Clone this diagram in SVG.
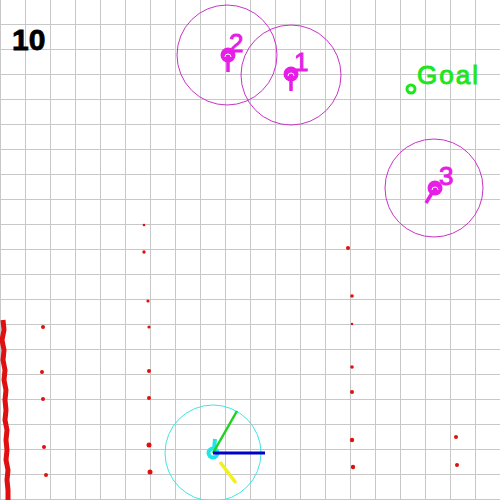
<svg xmlns="http://www.w3.org/2000/svg" width="500" height="500" viewBox="0 0 500 500">
<defs>
<style>
.range{fill:none;stroke:#c832c8;stroke-width:1}
.body{fill:#e61ee6}
.tail{stroke:#e61ee6;stroke-width:3.5;stroke-linecap:butt}
.inner{fill:none;stroke:#ffffff;stroke-width:1}
.lbl{font-family:"Liberation Sans",Arial,sans-serif;font-size:26px;fill:#e61ee6;stroke:#e61ee6;stroke-width:1}
.pt{fill:#e01010}
</style>
</defs>
<rect width="500" height="500" fill="#ffffff"/>
<path id="grid" fill="none" stroke="#c8c8c8" stroke-width="1" d="M0.5 0V500M25.5 0V500M50.5 0V500M75.5 0V500M100.5 0V500M125.5 0V500M150.5 0V500M175.5 0V500M200.5 0V500M225.5 0V500M250.5 0V500M275.5 0V500M300.5 0V500M325.5 0V500M350.5 0V500M375.5 0V500M400.5 0V500M425.5 0V500M450.5 0V500M475.5 0V500M0 24.5H500M0 49.5H500M0 74.5H500M0 99.5H500M0 124.5H500M0 149.5H500M0 174.5H500M0 199.5H500M0 224.5H500M0 249.5H500M0 274.5H500M0 299.5H500M0 324.5H500M0 349.5H500M0 374.5H500M0 399.5H500M0 424.5H500M0 449.5H500M0 474.5H500M0 499.5H500"/>
<text x="12" y="50" font-family="Liberation Sans,Arial,sans-serif" font-weight="bold" font-size="30" fill="#000" stroke="#000" stroke-width="0.8">10</text>

<g id="lidar">
<path d="M3 320 L4 330 L2 340 L4 350 L3 360 L5 370 L4 380 L6 390 L5 400 L6 410 L5 420 L7 430 L6 440 L7 450 L6 460 L8 470 L7 480 L8 490 L8 500" fill="none" stroke="#e01010" stroke-width="5"/>
<circle class="pt" cx="43" cy="327" r="2"/>
<circle class="pt" cx="42" cy="372" r="2"/>
<circle class="pt" cx="43" cy="399" r="2"/>
<circle class="pt" cx="44" cy="447" r="2"/>
<circle class="pt" cx="46" cy="475" r="2"/>
<circle class="pt" cx="144" cy="225" r="1.3"/>
<circle class="pt" cx="144" cy="252" r="1.7"/>
<circle class="pt" cx="148" cy="301" r="1.6"/>
<circle class="pt" cx="149" cy="327" r="1.6"/>
<circle class="pt" cx="149" cy="371" r="2"/>
<circle class="pt" cx="149" cy="398" r="2"/>
<circle class="pt" cx="149" cy="445" r="2.5"/>
<circle class="pt" cx="150" cy="472" r="2.5"/>
<circle class="pt" cx="348" cy="248" r="2"/>
<circle class="pt" cx="352" cy="296" r="1.8"/>
<circle class="pt" cx="352" cy="324" r="1.3"/>
<circle class="pt" cx="352" cy="367" r="1.8"/>
<circle class="pt" cx="352" cy="392" r="2"/>
<circle class="pt" cx="352" cy="440" r="2.2"/>
<circle class="pt" cx="353" cy="467" r="2.2"/>
<circle class="pt" cx="456" cy="437" r="2"/>
<circle class="pt" cx="457" cy="465" r="2"/>
</g>

<g id="goal">
<circle cx="411" cy="89" r="4" fill="none" stroke="#1ee61e" stroke-width="3"/>
<text x="417" y="84" font-family="Liberation Sans,Arial,sans-serif" font-size="26" fill="#1ee61e" stroke="#1ee61e" stroke-width="1" letter-spacing="2">Goal</text>
</g>

<g id="robot2">
<circle class="range" cx="227" cy="55" r="50"/>
<line class="tail" x1="228" y1="55" x2="228" y2="72"/>
<circle class="body" cx="228" cy="55" r="7.5"/>
<path class="inner" d="M225 57 A3 3 0 0 1 231 57"/>
<text class="lbl" x="229" y="52">2</text>
</g>

<g id="robot1">
<circle class="range" cx="291" cy="75" r="50"/>
<line class="tail" x1="291" y1="74" x2="291" y2="91"/>
<circle class="body" cx="291" cy="74" r="7.5"/>
<path class="inner" d="M288 76 A3 3 0 0 1 294 76"/>
<text class="lbl" x="294" y="71">1</text>
</g>

<g id="robot3">
<circle class="range" cx="434" cy="188" r="49"/>
<line class="tail" x1="435" y1="188" x2="426" y2="203"/>
<circle class="body" cx="435" cy="188" r="7.5"/>
<path class="inner" d="M432 190 A3 3 0 0 1 438 190"/>
<text class="lbl" x="439" y="185">3</text>
</g>

<g id="robot0">
<circle cx="213" cy="453" r="48" fill="none" stroke="#3ce6e6" stroke-width="1"/>
<line x1="220" y1="462" x2="236" y2="483" stroke="#f0f01e" stroke-width="3.5"/>
<line x1="214" y1="450" x2="215" y2="439" stroke="#1ee6e6" stroke-width="4"/>
<circle cx="213" cy="453" r="6.5" fill="#1ee6e6"/>
<circle cx="213" cy="453" r="2.5" fill="#ffffff"/>
<line x1="213" y1="453" x2="237" y2="411" stroke="#1ed21e" stroke-width="2.5"/>
<line x1="213" y1="453" x2="265" y2="453" stroke="#0000c8" stroke-width="3"/>
</g>
</svg>
